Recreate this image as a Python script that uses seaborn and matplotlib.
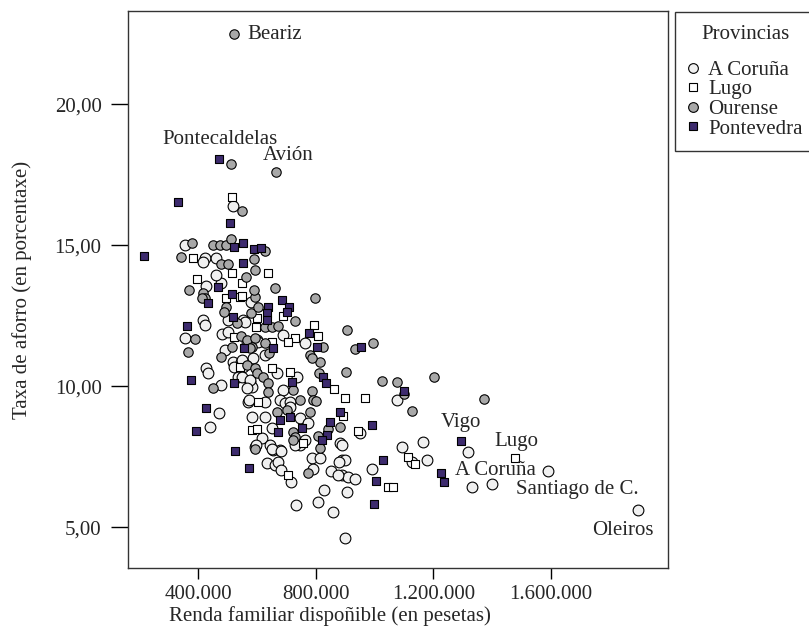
import matplotlib
matplotlib.use("Agg")
import matplotlib.pyplot as plt
from matplotlib.lines import Line2D
from matplotlib.ticker import FuncFormatter
import seaborn as sns
import pandas as pd

# renda familiar disponible (miles de pesetas) e taxa de aforro (%), por provincia
coruna_renda = [519, 356, 424, 461, 417, 478, 427, 580, 502, 553, 417, 424, 356, 482, 502,
                492, 519, 546, 522, 553, 587, 427, 434, 536, 478, 577, 584, 570, 471, 584,
                441, 594, 560, 689, 764, 601, 567, 604, 628, 550, 669, 737, 550, 577, 689,
                567, 573, 628, 679, 696, 713, 713, 628, 747, 774, 652, 764, 747, 883, 618,
                655, 679, 788, 815, 1077, 951, 890, 1165, 1094, 1128, 1179, 992, 890, 900,
                890, 910, 934, 907, 1318, 1590, 1332, 1400, 1896, 597, 645, 652, 682, 635,
                662, 672, 682, 716, 730, 791, 852, 876, 879, 828, 808, 733, 859, 900, 461]
coruna_taxa = [16.38, 15.00, 14.54, 14.54, 14.40, 13.65, 13.55, 12.98, 12.34, 12.34, 12.34, 12.16,
               11.70, 11.84, 11.91, 11.28, 10.85, 10.85, 10.67, 10.67, 10.99, 10.64, 10.46, 10.32,
               10.04, 10.14, 9.96, 9.43, 9.04, 8.90, 8.55, 7.84, 12.27, 11.81, 11.52, 11.63, 11.56,
               11.56, 11.10, 10.92, 10.46, 10.32, 10.32, 10.21, 9.86, 9.93, 9.50, 9.43, 9.50, 9.40,
               9.43, 9.26, 8.90, 8.87, 8.69, 8.51, 8.09, 7.91, 7.98, 8.16, 7.73, 7.73, 7.45, 7.45,
               9.50, 8.33, 7.91, 8.01, 7.84, 7.30, 7.38, 7.06, 7.38, 7.38, 6.84, 6.77, 6.70, 6.24,
               7.66, 6.99, 6.42, 6.52, 5.60, 7.91, 7.91, 7.77, 7.70, 7.27, 7.20, 7.30, 7.02, 6.60,
               7.91, 7.06, 6.99, 6.84, 7.30, 6.31, 5.89, 5.78, 5.53, 4.61, 13.94]

lugo_renda = [516, 383, 516, 397, 543, 495, 597, 522, 604, 584, 638, 550, 550, 689, 601, 794,
              808, 730, 652, 706, 543, 652, 713, 862, 900, 601, 757, 893, 944, 968, 1114, 1138,
              1046, 1063, 1478, 706]
lugo_taxa = [16.70, 14.54, 14.01, 13.79, 13.16, 13.12, 12.09, 11.74, 9.43, 8.44, 14.01, 13.65,
             13.19, 12.48, 12.41, 12.16, 11.77, 11.70, 11.56, 11.56, 10.67, 10.64, 10.50, 9.89,
             9.57, 8.48, 7.98, 8.94, 8.40, 9.57, 7.48, 7.23, 6.42, 6.42, 7.45, 6.84]

ourense_renda = [522, 512, 665, 550, 380, 451, 475, 495, 512, 342, 478, 502, 590, 594, 563, 369,
                 417, 424, 414, 594, 495, 488, 533, 580, 390, 366, 546, 567, 594, 584, 516, 478,
                 451, 594, 628, 662, 590, 798, 604, 730, 628, 652, 672, 907, 628, 825, 577, 641,
                 934, 781, 815, 788, 567, 594, 601, 811, 903, 621, 638, 638, 723, 747, 788, 791,
                 801, 669, 703, 781, 883, 842, 723, 730, 723, 808, 815, 995, 1026, 1077, 1100,
                 1202, 1128, 1372, 774]
ourense_taxa = [22.48, 17.87, 17.59, 16.20, 15.07, 15.00, 15.00, 15.00, 15.21, 14.57, 14.33, 14.33,
                14.50, 14.11, 13.87, 13.40, 13.30, 13.12, 13.12, 13.16, 12.80, 12.62, 12.23, 12.59,
                11.67, 11.21, 11.77, 11.63, 11.70, 11.38, 11.38, 11.03, 9.93, 7.77, 14.79, 13.48,
                13.40, 13.12, 12.80, 12.30, 12.09, 12.09, 12.13, 11.99, 11.52, 11.38, 11.35, 11.17,
                11.31, 11.10, 10.85, 10.99, 10.74, 10.64, 10.46, 10.46, 10.50, 10.32, 10.11, 9.79,
                9.86, 9.50, 9.82, 9.50, 9.47, 9.08, 9.15, 9.08, 8.55, 8.48, 8.37, 8.19, 8.09, 8.23,
                7.80, 11.52, 10.18, 10.14, 9.72, 10.32, 9.11, 9.54, 6.91]

pontevedra_renda = [471, 332, 509, 522, 553, 590, 614, 216, 553, 468, 434, 516, 519, 363, 556,
                    376, 522, 427, 393, 526, 573, 686, 709, 703, 638, 635, 635, 777, 805, 655,
                    825, 835, 720, 679, 713, 883, 849, 672, 754, 839, 954, 1100, 992, 1029, 1005,
                    998, 1226, 1236, 1294, 822]
pontevedra_taxa = [18.05, 16.52, 15.78, 14.93, 15.07, 14.86, 14.89, 14.61, 14.36, 13.51, 12.94,
                   13.26, 12.45, 12.13, 11.35, 10.21, 10.11, 9.22, 8.40, 7.70, 7.09, 13.05, 12.80,
                   12.62, 12.80, 12.59, 12.34, 11.88, 11.38, 11.35, 10.32, 10.11, 10.14, 8.79, 8.90,
                   9.08, 8.72, 8.37, 8.51, 8.26, 11.38, 9.82, 8.62, 7.38, 6.63, 5.82, 6.91, 6.60,
                   8.05, 8.09]

provincias = ["A Coruña", "Lugo", "Ourense", "Pontevedra"]

# concellos rotulados: nome, renda, taxa
rotulos = ["Beariz", "Pontecaldelas", "Avión", "Vigo", "Lugo", "A Coruña", "Santiago de C.", "Oleiros"]
rotulos_renda = [522, 471, 665, 1294, 1478, 1332, 1590, 1896]
rotulos_taxa = [22.48, 18.05, 17.59, 8.05, 7.45, 6.42, 6.99, 5.60]

df = pd.concat([
    pd.DataFrame({"renda": [r * 1000 for r in rr], "taxa": tt, "provincia": p})
    for p, rr, tt in zip(provincias,
                         [coruna_renda, lugo_renda, ourense_renda, pontevedra_renda],
                         [coruna_taxa, lugo_taxa, ourense_taxa, pontevedra_taxa])
], ignore_index=True)

sns.set_style("ticks")
plt.rcParams["font.family"] = ["Liberation Serif", "DejaVu Serif"]
FS = 15

cores = {"A Coruña": "#f0f0f0", "Lugo": "#ffffff", "Ourense": "#a8a8a8", "Pontevedra": "#3d2b6e"}
marcadores = {"A Coruña": "o", "Lugo": "s", "Ourense": "o", "Pontevedra": "s"}
tamanos = {"A Coruña": 60, "Lugo": 38, "Ourense": 46, "Pontevedra": 38}

fig = plt.figure(figsize=(8.09, 6.37), dpi=100)
ax = fig.add_axes([0.1582, 0.1083, 0.6675, 0.8744])

for p in provincias:
    sub = df[df["provincia"] == p]
    sns.scatterplot(data=sub, x="renda", y="taxa", marker=marcadores[p], color=cores[p],
                    s=tamanos[p], edgecolor="black", linewidth=0.8, ax=ax, legend=False)

# rotulos: desprazamento en pixels respecto ao punto
desprazamentos = [(13, 0, "left"), (1, 20, "center"), (12, 17, "center"), (0, 19, "center"),
                  (1, 17, "center"), (23, 17, "center"), (29, -19, "center"), (-15, -20, "center")]
for nome, xr, yt, (dx, dy, ha) in zip(rotulos, rotulos_renda, rotulos_taxa, desprazamentos):
    ax.annotate(nome, (xr * 1000, yt), xytext=(dx, dy), textcoords="offset pixels",
                ha=ha, va="center", fontsize=FS)

ax.set_xlim(162000, 1997000)
ax.set_ylim(3.55, 23.3)
ax.set_xticks([400000, 800000, 1200000, 1600000])
ax.set_yticks([5, 10, 15, 20])
ax.xaxis.set_major_formatter(FuncFormatter(lambda v, pos: f"{int(v):,}".replace(",", ".")))
ax.yaxis.set_major_formatter(FuncFormatter(lambda v, pos: f"{v:.2f}".replace(".", ",")))
ax.tick_params(axis="y", length=12, width=1, color="black", labelsize=FS, pad=7)
ax.tick_params(axis="x", length=8, width=1, color="black", labelsize=FS, pad=4)
for s in ax.spines.values():
    s.set_color("#333333")
    s.set_linewidth(1)
ax.set_xlabel("Renda familiar dispoñible (en pesetas)", fontsize=FS, labelpad=4)
ax.xaxis.set_label_coords(0.374, -0.068)
ax.set_ylabel("Taxa de aforro (en porcentaxe)", fontsize=FS, labelpad=16)

handles = [Line2D([], [], marker=marcadores[p], linestyle="", markerfacecolor=cores[p],
                  markeredgecolor="black", markeredgewidth=0.8,
                  markersize=7 if marcadores[p] == "o" else 6) for p in provincias]
leg = ax.legend(handles, provincias, title="Provincias", loc="upper left",
                bbox_to_anchor=(1.013, 0.998), borderaxespad=0, frameon=True, fancybox=False,
                edgecolor="black", fontsize=FS, title_fontsize=FS, handletextpad=0.5,
                handlelength=0.5, labelspacing=0.0, borderpad=0.6)
leg._legend_box.sep = 12
leg.get_frame().set_linewidth(1)

fig.savefig("out.png", dpi=100)
